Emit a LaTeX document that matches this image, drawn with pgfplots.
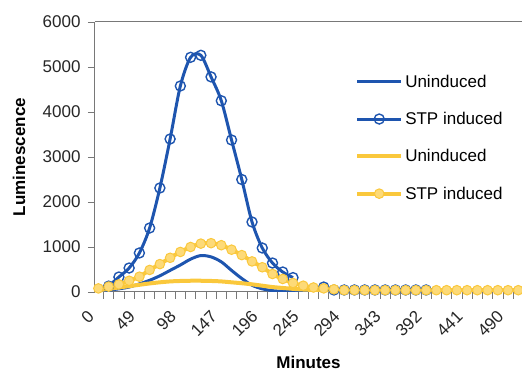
\documentclass[border=0pt]{standalone}
\usepackage{pgfplots}
\pgfplotsset{compat=1.18}
\usepackage{fontspec}
\setmainfont{Liberation Sans}
\definecolor{bl}{RGB}{30,85,175}
\definecolor{yl}{RGB}{250,200,60}
\definecolor{ylf}{RGB}{253,218,120}
\definecolor{ax}{RGB}{120,120,120}
\begin{document}
\begin{tikzpicture}
\begin{axis}[
  at={(0,0)}, anchor=south west,
  scale only axis, width=427pt, height=270pt,
  xmin=-4.1, xmax=506.7, ymin=0, ymax=6000,
  axis x line=bottom, axis y line=left,
  axis line style={-, draw=ax, line width=1pt},
  tick align=outside,
  major tick length=7pt,
  tick style={ax, line width=0.8pt},
  xtick={6.125,18.375,...,502.25},
  xticklabels={},
  extra x ticks={0,49,98,147,196,245,294,343,392,441,490},
  extra x tick labels={0,49,98,147,196,245,294,343,392,441,490},
  extra x tick style={major tick length=0pt,
    xticklabel style={xshift=-5pt, yshift=-19pt, rotate=45, anchor=east}},
  ytick={0,1000,...,6000},
  /pgf/number format/assume math mode=true,
  /pgf/number format/1000 sep={},
  yticklabel style={xshift=-4pt},
  tick label style={font=\fontsize{17}{20}\selectfont, text=black!85},
  unbounded coords=jump,
  ylabel={\textbf{Luminescence}},
  ylabel style={at={(axis description cs:-0.178,0.5)}, anchor=center, font=\fontsize{17}{20}\selectfont},
  xlabel={\textbf{Minutes}},
  xlabel style={at={(axis description cs:0.5,-0.26)}, anchor=center, font=\fontsize{17}{20}\selectfont},
  legend style={at={(0.602,0.82)}, anchor=north west, draw=none, fill=none,
    font=\fontsize{17}{20}\selectfont, row sep=19.5pt},
  legend cell align=left,
  legend image code/.code={\draw[#1] (0pt,0pt) -- (44pt,0pt); \draw[#1] plot coordinates {(22pt,0pt)};},
]
% Blue uninduced
\addplot[bl, line width=3pt, smooth, mark=none] coordinates {
(0,20) (12.25,40) (24.5,70) (36.75,110) (49,180) (61.25,260) (73.5,360) (85.75,480)
(98,600) (110.25,730) (122.5,810) (134.75,780) (147,670) (159.25,480) (171.5,300)
(183.75,150) (196,70) (208.25,30) (220.5,15) (232.75,8) (245,5) (257.25,5) (269.5,5)
(281.75,5) (294,5) (306.25,5) (318.5,5) (330.75,5) (343,5) (355.25,5) (367.5,5) (379.75,5) (392,5)
};
\addlegendentry{Uninduced}
% Blue STP induced
\addplot[bl, line width=3pt, smooth, mark=o, mark size=5pt, mark options={line width=1.4pt, fill=none}] coordinates {
(12.25,130) (24.5,333) (36.75,533) (49,867) (61.25,1422) (73.5,2311) (85.75,3400)
(98,4578) (110.25,5215) (122.5,5260) (134.75,4780) (147,4250) (159.25,3378) (171.5,2500)
(183.75,1556) (196,978) (208.25,644) (220.5,444) (232.75,320) (245,nan) (257.25,nan)
(269.5,110) (281.75,45) (294,45) (306.25,45) (318.5,45) (330.75,45) (343,45) (355.25,45)
(367.5,45) (379.75,45) (392,45)
};
\addlegendentry{STP induced}
% Yellow uninduced
\addplot[yl, line width=4pt, smooth, mark=none] coordinates {
(0,40) (12.25,70) (24.5,100) (36.75,130) (49,160) (61.25,190) (73.5,215) (85.75,235)
(98,245) (110.25,250) (122.5,250) (134.75,245) (147,235) (159.25,215) (171.5,195)
(183.75,170) (196,140) (208.25,110) (220.5,90) (232.75,70) (245,55) (257.25,45) (269.5,35)
(281.75,35) (294,35) (306.25,35) (318.5,35) (330.75,35) (343,35) (355.25,35) (367.5,35)
(379.75,35) (392,35) (404.25,35) (416.5,35) (428.75,35) (441,35) (453.25,35) (465.5,35)
(477.75,35) (490,35) (502.25,35)
};
\addlegendentry{Uninduced}
% Yellow STP induced
\addplot[yl, line width=4pt, smooth, mark=*, mark size=4.8pt, mark options={fill=ylf, draw=yl, line width=1pt}] coordinates {
(0,80) (12.25,120) (24.5,170) (36.75,250) (49,340) (61.25,490) (73.5,620) (85.75,760)
(98,890) (110.25,1000) (122.5,1075) (134.75,1085) (147,1040) (159.25,940) (171.5,820)
(183.75,680) (196,550) (208.25,400) (220.5,290) (232.75,200) (245,140) (257.25,100) (269.5,80)
(281.75,60) (294,40) (306.25,40) (318.5,40) (330.75,40) (343,40) (355.25,40) (367.5,40)
(379.75,40) (392,40) (404.25,40) (416.5,40) (428.75,40) (441,40) (453.25,40) (465.5,40)
(477.75,40) (490,40) (502.25,40)
};
\addlegendentry{STP induced}
\end{axis}
\draw[ax, line width=1pt] (0pt,270pt) -- (427pt,270pt);
\pgfresetboundingbox
\path[use as bounding box] (-95pt,-82pt) rectangle (427pt,292pt);
\end{tikzpicture}
\end{document}
